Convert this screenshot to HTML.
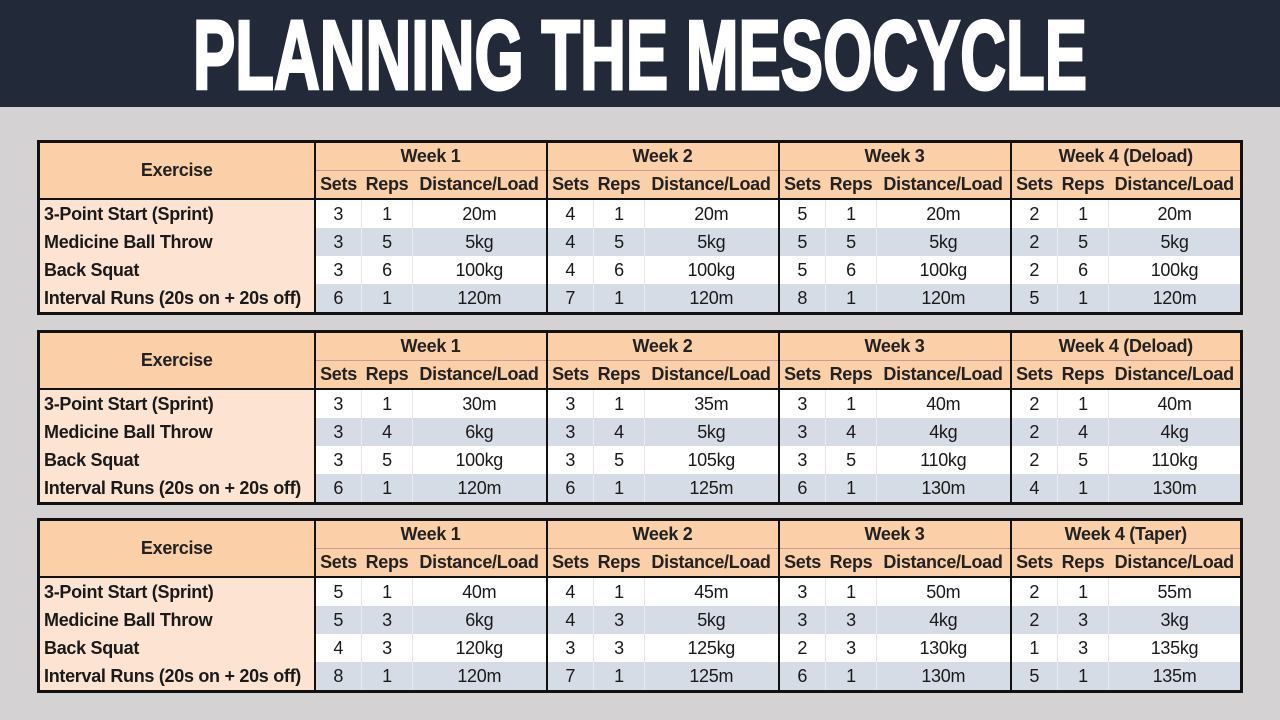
<!DOCTYPE html>
<html><head><meta charset="utf-8"><style>
html,body{margin:0;padding:0;width:1280px;height:720px;overflow:hidden;background:#d4d2d3;font-family:"Liberation Sans",sans-serif}
.top{position:absolute;left:0;top:0;width:1280px;height:107px;background:#222a3a}
table{position:absolute;left:37px;border-collapse:collapse;table-layout:fixed;width:1206px;border:3px solid #111;font-size:18px;color:#1a1a1a;letter-spacing:-0.3px}
td{padding:0;text-align:center;height:27px;line-height:27px;overflow:hidden;white-space:nowrap}
tr.w td,tr.b td{height:28px;line-height:28px}
.h td{background:#fbcfa8;font-weight:bold;color:#222}
.h1 td{border-bottom:1px solid #c99}
td.ex{background:#fde4d2;font-weight:bold;text-align:left;padding-left:4px;border-right:2px solid #111}
td.exh{background:#fbcfa8;font-weight:bold;border-right:2px solid #111;border-bottom:2px solid #111}
.h2 td{border-bottom:2px solid #111}
td.g{border-right:2px solid #111}
tr.w td{background:#fff}
tr.b td{background:#d6dce5}
tr.w td.ex,tr.b td.ex{background:#fde4d2}
tr.w td.s,tr.w td.r{border-right:1px solid #e6e6e6}
tr.b td.s,tr.b td.r{border-right:1px solid #e8ecf2}
</style></head><body>
<div class="top"><svg width="1280" height="107"><text x="193" y="89" textLength="894" lengthAdjust="spacingAndGlyphs" font-family="Liberation Sans" font-weight="bold" font-size="98" fill="#fff" stroke="#fff" stroke-width="3">PLANNING THE MESOCYCLE</text></svg></div>

<table style="top:140px">
<colgroup><col style="width:276px"><col style="width:47px"><col style="width:51px"><col style="width:134px"><col style="width:47px"><col style="width:51px"><col style="width:134px"><col style="width:47px"><col style="width:51px"><col style="width:134px"><col style="width:47px"><col style="width:51px"><col></colgroup>
<tr class="h h1"><td class="exh" rowspan="2">Exercise</td><td colspan="3" class="g">Week 1</td><td colspan="3" class="g">Week 2</td><td colspan="3" class="g">Week 3</td><td colspan="3">Week 4 (Deload)</td></tr>
<tr class="h h2"><td>Sets</td><td>Reps</td><td class="g">Distance/Load</td><td>Sets</td><td>Reps</td><td class="g">Distance/Load</td><td>Sets</td><td>Reps</td><td class="g">Distance/Load</td><td>Sets</td><td>Reps</td><td>Distance/Load</td></tr>
<tr class="w"><td class="ex">3-Point Start (Sprint)</td><td class="s">3</td><td class="r">1</td><td class="g">20m</td><td class="s">4</td><td class="r">1</td><td class="g">20m</td><td class="s">5</td><td class="r">1</td><td class="g">20m</td><td class="s">2</td><td class="r">1</td><td>20m</td></tr>
<tr class="b"><td class="ex">Medicine Ball Throw</td><td class="s">3</td><td class="r">5</td><td class="g">5kg</td><td class="s">4</td><td class="r">5</td><td class="g">5kg</td><td class="s">5</td><td class="r">5</td><td class="g">5kg</td><td class="s">2</td><td class="r">5</td><td>5kg</td></tr>
<tr class="w"><td class="ex">Back Squat</td><td class="s">3</td><td class="r">6</td><td class="g">100kg</td><td class="s">4</td><td class="r">6</td><td class="g">100kg</td><td class="s">5</td><td class="r">6</td><td class="g">100kg</td><td class="s">2</td><td class="r">6</td><td>100kg</td></tr>
<tr class="b"><td class="ex">Interval Runs (20s on + 20s off)</td><td class="s">6</td><td class="r">1</td><td class="g">120m</td><td class="s">7</td><td class="r">1</td><td class="g">120m</td><td class="s">8</td><td class="r">1</td><td class="g">120m</td><td class="s">5</td><td class="r">1</td><td>120m</td></tr>
</table>

<table style="top:330px">
<colgroup><col style="width:276px"><col style="width:47px"><col style="width:51px"><col style="width:134px"><col style="width:47px"><col style="width:51px"><col style="width:134px"><col style="width:47px"><col style="width:51px"><col style="width:134px"><col style="width:47px"><col style="width:51px"><col></colgroup>
<tr class="h h1"><td class="exh" rowspan="2">Exercise</td><td colspan="3" class="g">Week 1</td><td colspan="3" class="g">Week 2</td><td colspan="3" class="g">Week 3</td><td colspan="3">Week 4 (Deload)</td></tr>
<tr class="h h2"><td>Sets</td><td>Reps</td><td class="g">Distance/Load</td><td>Sets</td><td>Reps</td><td class="g">Distance/Load</td><td>Sets</td><td>Reps</td><td class="g">Distance/Load</td><td>Sets</td><td>Reps</td><td>Distance/Load</td></tr>
<tr class="w"><td class="ex">3-Point Start (Sprint)</td><td class="s">3</td><td class="r">1</td><td class="g">30m</td><td class="s">3</td><td class="r">1</td><td class="g">35m</td><td class="s">3</td><td class="r">1</td><td class="g">40m</td><td class="s">2</td><td class="r">1</td><td>40m</td></tr>
<tr class="b"><td class="ex">Medicine Ball Throw</td><td class="s">3</td><td class="r">4</td><td class="g">6kg</td><td class="s">3</td><td class="r">4</td><td class="g">5kg</td><td class="s">3</td><td class="r">4</td><td class="g">4kg</td><td class="s">2</td><td class="r">4</td><td>4kg</td></tr>
<tr class="w"><td class="ex">Back Squat</td><td class="s">3</td><td class="r">5</td><td class="g">100kg</td><td class="s">3</td><td class="r">5</td><td class="g">105kg</td><td class="s">3</td><td class="r">5</td><td class="g">110kg</td><td class="s">2</td><td class="r">5</td><td>110kg</td></tr>
<tr class="b"><td class="ex">Interval Runs (20s on + 20s off)</td><td class="s">6</td><td class="r">1</td><td class="g">120m</td><td class="s">6</td><td class="r">1</td><td class="g">125m</td><td class="s">6</td><td class="r">1</td><td class="g">130m</td><td class="s">4</td><td class="r">1</td><td>130m</td></tr>
</table>

<table style="top:518px">
<colgroup><col style="width:276px"><col style="width:47px"><col style="width:51px"><col style="width:134px"><col style="width:47px"><col style="width:51px"><col style="width:134px"><col style="width:47px"><col style="width:51px"><col style="width:134px"><col style="width:47px"><col style="width:51px"><col></colgroup>
<tr class="h h1"><td class="exh" rowspan="2">Exercise</td><td colspan="3" class="g">Week 1</td><td colspan="3" class="g">Week 2</td><td colspan="3" class="g">Week 3</td><td colspan="3">Week 4 (Taper)</td></tr>
<tr class="h h2"><td>Sets</td><td>Reps</td><td class="g">Distance/Load</td><td>Sets</td><td>Reps</td><td class="g">Distance/Load</td><td>Sets</td><td>Reps</td><td class="g">Distance/Load</td><td>Sets</td><td>Reps</td><td>Distance/Load</td></tr>
<tr class="w"><td class="ex">3-Point Start (Sprint)</td><td class="s">5</td><td class="r">1</td><td class="g">40m</td><td class="s">4</td><td class="r">1</td><td class="g">45m</td><td class="s">3</td><td class="r">1</td><td class="g">50m</td><td class="s">2</td><td class="r">1</td><td>55m</td></tr>
<tr class="b"><td class="ex">Medicine Ball Throw</td><td class="s">5</td><td class="r">3</td><td class="g">6kg</td><td class="s">4</td><td class="r">3</td><td class="g">5kg</td><td class="s">3</td><td class="r">3</td><td class="g">4kg</td><td class="s">2</td><td class="r">3</td><td>3kg</td></tr>
<tr class="w"><td class="ex">Back Squat</td><td class="s">4</td><td class="r">3</td><td class="g">120kg</td><td class="s">3</td><td class="r">3</td><td class="g">125kg</td><td class="s">2</td><td class="r">3</td><td class="g">130kg</td><td class="s">1</td><td class="r">3</td><td>135kg</td></tr>
<tr class="b"><td class="ex">Interval Runs (20s on + 20s off)</td><td class="s">8</td><td class="r">1</td><td class="g">120m</td><td class="s">7</td><td class="r">1</td><td class="g">125m</td><td class="s">6</td><td class="r">1</td><td class="g">130m</td><td class="s">5</td><td class="r">1</td><td>135m</td></tr>
</table>
</body></html>
